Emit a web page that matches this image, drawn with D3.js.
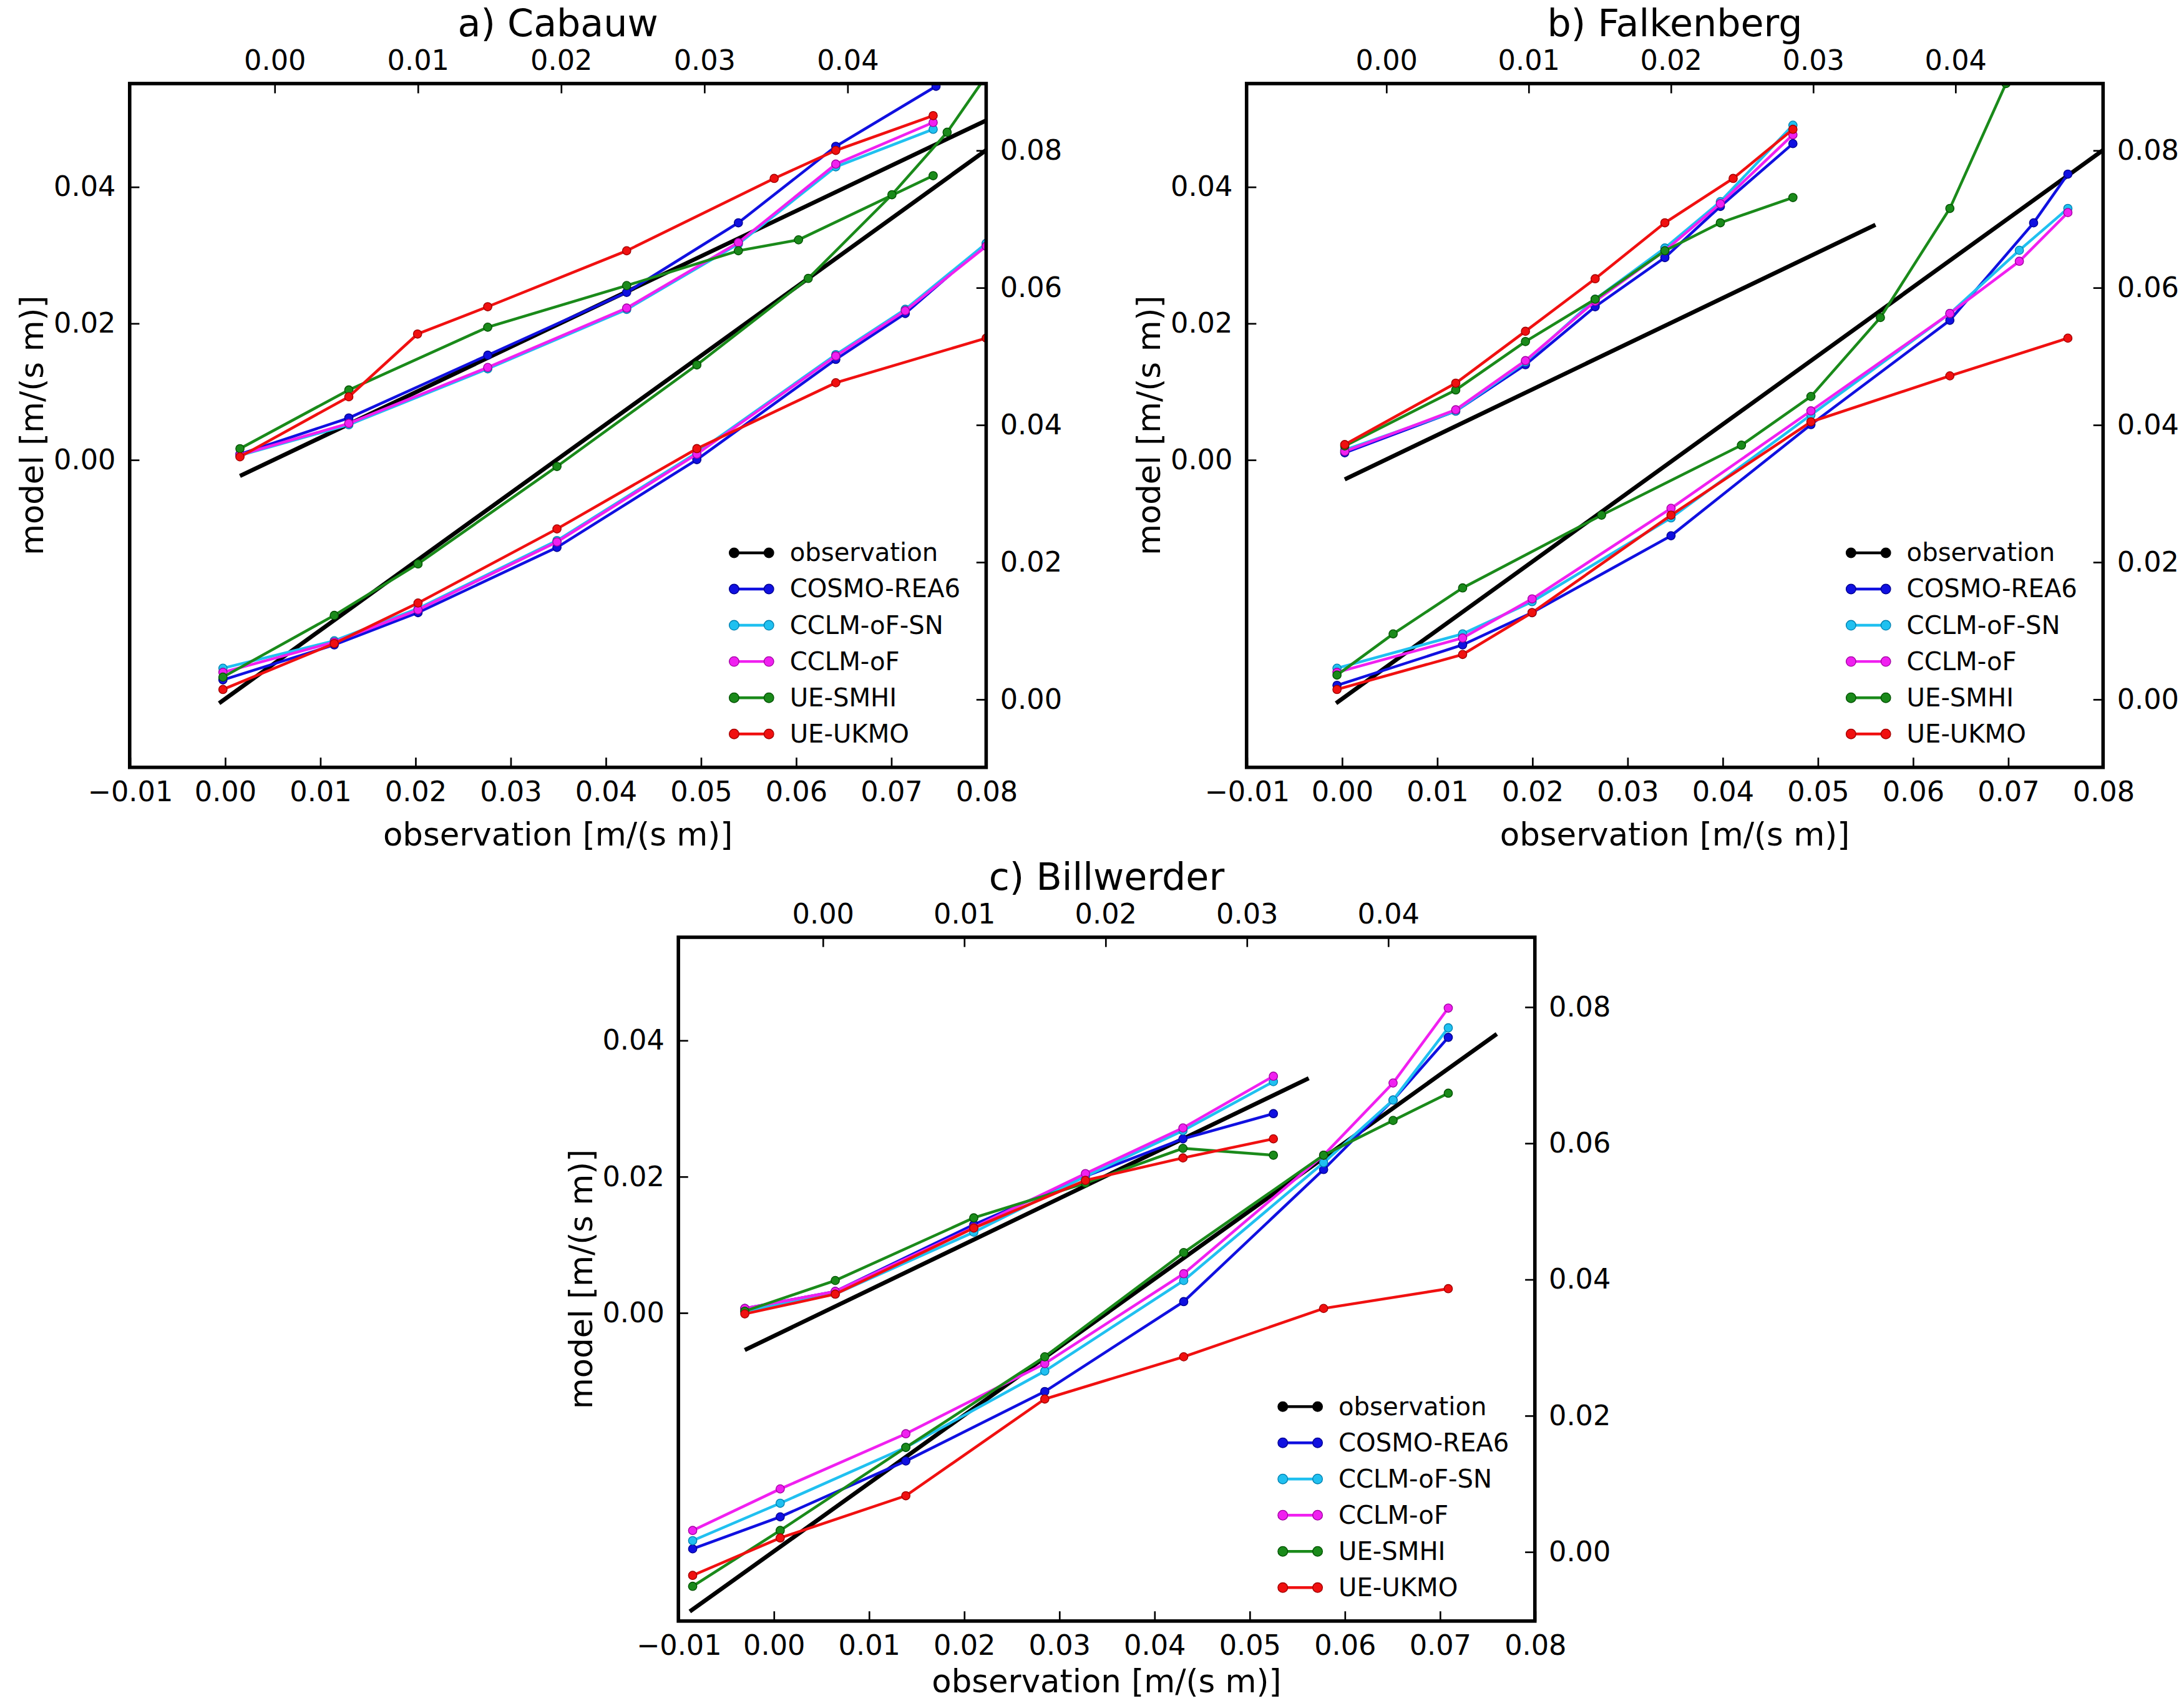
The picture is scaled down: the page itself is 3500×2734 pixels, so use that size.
<!DOCTYPE html>
<html><head><meta charset="utf-8">
<script src="https://cdn.jsdelivr.net/npm/d3@7"></script>
<style>body{margin:0;background:#fff}text{font-family:"DejaVu Sans",sans-serif}</style>
</head><body>
<svg id="fig" width="3500" height="2734" viewBox="0 0 1568 1225"></svg>
<script>
// series names and colours
var names = ["COSMO-REA6", "CCLM-oF-SN", "CCLM-oF", "UE-SMHI", "UE-UKMO"];
var colors = ["#1010e0", "#20c0f0", "#f020f0", "#1a8a1a", "#f01010"];
var edges = ["#000090", "#0080b0", "#a000a0", "#005000", "#a00000"];

// panel a, upper curves (top x / left y), [obs, model]
var aUpper = [
  [[-0.0024,0.0008],[0.0052,0.0061],[0.0149,0.0153],[0.0246,0.0245],[0.0324,0.0347],[0.0392,0.0459],[0.0462,0.0547]],
  [[-0.0024,0.0006],[0.0052,0.0051],[0.0149,0.0133],[0.0246,0.022],[0.0324,0.0316],[0.0392,0.0429],[0.046,0.0484]],
  [[-0.0024,0.0007],[0.0052,0.0053],[0.0149,0.0135],[0.0246,0.0222],[0.0324,0.0318],[0.0392,0.0433],[0.046,0.0494]],
  [[-0.0024,0.0016],[0.0052,0.0102],[0.0149,0.0194],[0.0246,0.0255],[0.0324,0.0306],[0.0366,0.0322],[0.046,0.0416]],
  [[-0.0024,0.0004],[0.0052,0.0092],[0.01,0.0184],[0.0149,0.0224],[0.0246,0.0306],[0.0349,0.0412],[0.0392,0.0453],[0.046,0.0504]]
];
// panel a, lower curves (bottom x / right y)
var aLower = [
  [[-0.0002,0.0028],[0.0115,0.0079],[0.0203,0.0126],[0.0349,0.0221],[0.0496,0.0349],[0.0642,0.0495],[0.0715,0.0562],[0.08,0.0664]],
  [[-0.0002,0.0045],[0.0115,0.0085],[0.0203,0.0132],[0.0349,0.0231],[0.0496,0.0359],[0.0642,0.0502],[0.0715,0.0568],[0.08,0.0664]],
  [[-0.0002,0.0039],[0.0115,0.0083],[0.0203,0.013],[0.0349,0.0229],[0.0496,0.0357],[0.0642,0.05],[0.0715,0.0566],[0.08,0.066]],
  [[-0.0002,0.0032],[0.0115,0.0122],[0.0203,0.0197],[0.0349,0.0339],[0.0496,0.0487],[0.0613,0.0613],[0.0701,0.0735],[0.0759,0.0826],[0.08,0.0908]],
  [[-0.0002,0.0014],[0.0115,0.0081],[0.0203,0.014],[0.0349,0.0248],[0.0496,0.0365],[0.0642,0.0461],[0.08,0.0526]]
];
var bUpper = [
  [[-0.0029,0.001],[0.0049,0.0071],[0.0098,0.0139],[0.0147,0.0224],[0.0196,0.0296],[0.0235,0.0371],[0.0286,0.0463]],
  [[-0.0029,0.0014],[0.0049,0.0071],[0.0098,0.0143],[0.0147,0.0235],[0.0196,0.031],[0.0235,0.0378],[0.0286,0.049]],
  [[-0.0029,0.0012],[0.0049,0.0073],[0.0098,0.0145],[0.0147,0.0232],[0.0196,0.0306],[0.0235,0.0375],[0.0286,0.0476]],
  [[-0.0029,0.002],[0.0049,0.0102],[0.0098,0.0173],[0.0147,0.0235],[0.0196,0.0306],[0.0235,0.0347],[0.0286,0.0384]],
  [[-0.0029,0.0022],[0.0049,0.0112],[0.0098,0.0188],[0.0147,0.0265],[0.0196,0.0347],[0.0244,0.0412],[0.0286,0.0484]]
];
var bLower = [
  [[-0.0005,0.002],[0.0127,0.0079],[0.02,0.0126],[0.0346,0.0238],[0.0493,0.04],[0.0639,0.0552],[0.0727,0.0694],[0.0763,0.0765]],
  [[-0.0005,0.0045],[0.0127,0.0095],[0.02,0.0142],[0.0346,0.0264],[0.0493,0.0414],[0.0639,0.0562],[0.0712,0.0654],[0.0763,0.0715]],
  [[-0.0005,0.0039],[0.0127,0.0089],[0.02,0.0146],[0.0346,0.0278],[0.0493,0.042],[0.0639,0.0562],[0.0712,0.0638],[0.0763,0.0709]],
  [[-0.0005,0.0035],[0.0054,0.0095],[0.0127,0.0162],[0.0273,0.0268],[0.042,0.037],[0.0493,0.0441],[0.0566,0.0556],[0.0639,0.0715],[0.0698,0.0897]],
  [[-0.0005,0.0014],[0.0127,0.0065],[0.02,0.0126],[0.0346,0.0268],[0.0493,0.0404],[0.0639,0.0471],[0.0763,0.0526]]
];
var cUpper = [
  [[-0.0055,0.0006],[0.0009,0.0031],[0.0107,0.0129],[0.0186,0.02],[0.0255,0.0255],[0.0319,0.0292]],
  [[-0.0055,0.0002],[0.0009,0.0027],[0.0107,0.0118],[0.0186,0.02],[0.0255,0.0267],[0.0319,0.0339]],
  [[-0.0055,0.0006],[0.0009,0.0031],[0.0107,0.0125],[0.0186,0.0204],[0.0255,0.0271],[0.0319,0.0347]],
  [[-0.0055,0.0002],[0.0009,0.0047],[0.0107,0.0139],[0.0186,0.019],[0.0255,0.0241],[0.0319,0.0231]],
  [[-0.0055,-0.0002],[0.0009,0.0027],[0.0107,0.0124],[0.0186,0.0194],[0.0255,0.0227],[0.0319,0.0255]]
];
var cLower = [
  [[-0.0085,0.0004],[0.0007,0.0051],[0.0139,0.0133],[0.0285,0.0235],[0.0431,0.0367],[0.0578,0.0561],[0.0651,0.0663],[0.0709,0.0755]],
  [[-0.0085,0.0016],[0.0007,0.0071],[0.0139,0.0153],[0.0285,0.0265],[0.0431,0.0398],[0.0578,0.0571],[0.0651,0.0663],[0.0709,0.0769]],
  [[-0.0085,0.0031],[0.0007,0.0092],[0.0139,0.0173],[0.0285,0.0276],[0.0431,0.0408],[0.0578,0.0582],[0.0651,0.0688],[0.0709,0.0798]],
  [[-0.0085,-0.0051],[0.0007,0.0031],[0.0139,0.0153],[0.0285,0.0286],[0.0431,0.0439],[0.0578,0.0582],[0.0651,0.0633],[0.0709,0.0673]],
  [[-0.0085,-0.0035],[0.0007,0.002],[0.0139,0.0082],[0.0285,0.0224],[0.0431,0.0286],[0.0578,0.0357],[0.0709,0.0386]]
];
// 1:1 observation lines extents
var oneUpper = {a:[-0.0024,0.0497], b:[-0.0029,0.0344], c:[-0.0055,0.0344]};
var oneLower = {a:[-0.0006,0.08], b:[-0.0006,0.08], c:[-0.0088,0.076]};

var bottomTicks = [-0.01,0,0.01,0.02,0.03,0.04,0.05,0.06,0.07,0.08];
var topTicks = [0,0.01,0.02,0.03,0.04];
var leftTicks = [0,0.02,0.04];
var rightTicks = [0,0.02,0.04,0.06,0.08];

var panels = [
  {key:"a", title:"a) Cabauw", x0:93, y0:60, top:[-0.0101,0.0497], left:[-0.0451,0.0551], right:[-0.00995,0.0897], up:aUpper, lo:aLower, lab:56},
  {key:"b", title:"b) Falkenberg", x0:895, y0:60, top:[-0.0098,0.0504], left:[-0.0451,0.0551], right:[-0.00995,0.0897], up:bUpper, lo:bLower, lab:56},
  {key:"c", title:"c) Billwerder", x0:487, y0:673, top:[-0.0102,0.0504], left:[-0.0453,0.0551], right:[-0.0102,0.0902], up:cUpper, lo:cLower, lab:51}
];
var W = 615, H = 491;
var svg = d3.select("#fig");
var fmt = d3.format(".2f");
function tf(d){ return fmt(d).replace("-", "\u2212"); }

panels.forEach(function(p){
  var g = svg.append("g").attr("transform", "translate(" + p.x0 + "," + p.y0 + ")");
  var xb = d3.scaleLinear().domain([-0.01,0.08]).range([0,W]);
  var xt = d3.scaleLinear().domain(p.top).range([0,W]);
  var yl = d3.scaleLinear().domain(p.left).range([H,0]);
  var yr = d3.scaleLinear().domain(p.right).range([H,0]);

  function styleAxis(a){
    a.selectAll("path").remove();
    a.selectAll("line").attr("stroke","#000").attr("stroke-width",1.2);
    a.selectAll("text").attr("font-size",20).attr("fill","#000");
  }
  styleAxis(g.append("g").attr("transform","translate(0," + H + ")")
    .call(d3.axisBottom(xb).tickValues(bottomTicks).tickFormat(tf).tickSize(-7).tickPadding(10)));
  styleAxis(g.append("g").call(d3.axisTop(xt).tickValues(topTicks).tickFormat(tf).tickSize(-7).tickPadding(10)));
  styleAxis(g.append("g").call(d3.axisLeft(yl).tickValues(leftTicks).tickFormat(tf).tickSize(-7).tickPadding(10)));
  styleAxis(g.append("g").attr("transform","translate(" + W + ",0)")
    .call(d3.axisRight(yr).tickValues(rightTicks).tickFormat(tf).tickSize(-7).tickPadding(10)));

  var clip = "clip" + p.key;
  g.append("clipPath").attr("id", clip).append("rect").attr("width", W).attr("height", H);
  var plot = g.append("g").attr("clip-path", "url(#" + clip + ")");

  function drawSet(sets, xs, ys, one){
    plot.append("line").attr("x1", xs(one[0])).attr("y1", ys(one[0]))
      .attr("x2", xs(one[1])).attr("y2", ys(one[1])).attr("stroke","#000").attr("stroke-width",3);
    sets.forEach(function(s, i){
      var line = d3.line().x(function(d){ return xs(d[0]); }).y(function(d){ return ys(d[1]); });
      plot.append("path").datum(s).attr("d", line).attr("fill","none")
        .attr("stroke", colors[i]).attr("stroke-width", 2);
      plot.selectAll(null).data(s).enter().append("circle")
        .attr("cx", function(d){ return xs(d[0]); }).attr("cy", function(d){ return ys(d[1]); })
        .attr("r", 3).attr("fill", colors[i]).attr("stroke", edges[i]).attr("stroke-width", 0.6);
    });
  }
  drawSet(p.up, xt, yl, oneUpper[p.key]);
  drawSet(p.lo, xb, yr, oneLower[p.key]);

  g.append("rect").attr("width", W).attr("height", H).attr("fill","none").attr("stroke","#000").attr("stroke-width",2.5);

  g.append("text").attr("x", W/2).attr("y", -34).attr("text-anchor","middle").attr("font-size",27).text(p.title);
  g.append("text").attr("x", W/2).attr("y", H + p.lab).attr("text-anchor","middle").attr("font-size",23).text("observation [m/(s m)]");
  g.append("text").attr("transform","translate(-62," + (H/2) + ") rotate(-90)").attr("text-anchor","middle")
    .attr("font-size",23).text("model [m/(s m)]");

  // legend
  var lg = g.append("g").attr("transform","translate(" + (W - 181) + "," + (H - 154) + ")");
  var lnames = ["observation"].concat(names);
  var lcol = ["#000"].concat(colors);
  var ledge = ["#000"].concat(edges);
  lnames.forEach(function(n, i){
    var r = lg.append("g").attr("transform","translate(0," + (i * 26) + ")");
    r.append("line").attr("x1",0).attr("x2",25).attr("stroke", lcol[i]).attr("stroke-width",2);
    [0,25].forEach(function(cx){
      r.append("circle").attr("cx",cx).attr("r",3.5).attr("fill",lcol[i]).attr("stroke",ledge[i]).attr("stroke-width",0.6);
    });
    r.append("text").attr("x",40).attr("y",6).attr("font-size",18).text(n);
  });
});
</script>
</body></html>
